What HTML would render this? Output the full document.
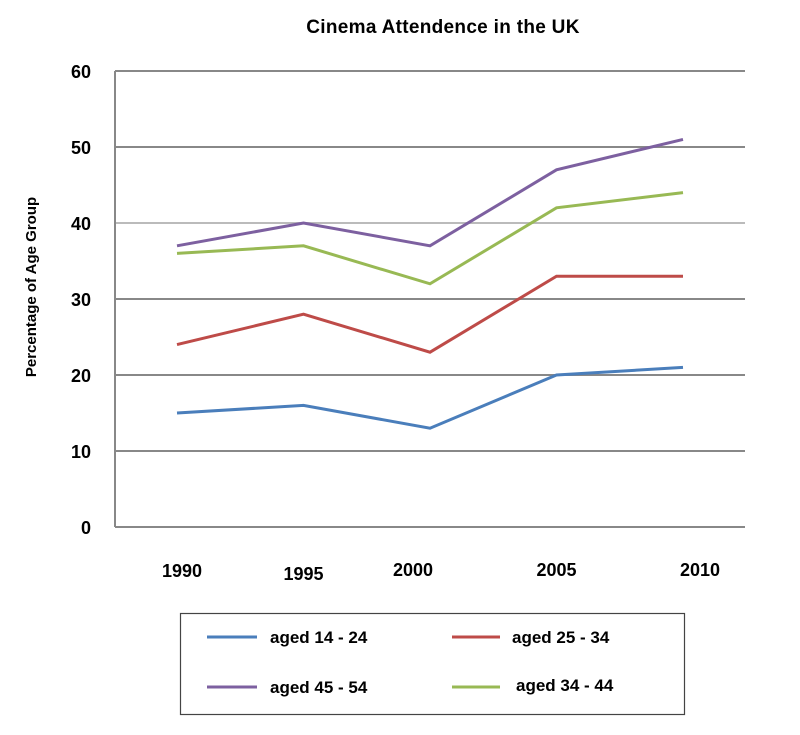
<!DOCTYPE html>
<html><head><meta charset="utf-8"><style>
body{margin:0;background:#fff;}
svg text{font-family:"Liberation Sans",Arial,sans-serif;font-weight:bold;fill:#000;}
</style></head><body>
<svg width="800" height="730" viewBox="0 0 800 730">
<text x="443" y="33" font-size="19" letter-spacing="0.3" text-anchor="middle">Cinema Attendence in the UK</text>
<text transform="translate(36,287) rotate(-90)" font-size="15" text-anchor="middle">Percentage of Age Group</text>
<g id="grid"></g>
<g id="series"></g>
<g>
<rect x="180.5" y="613.5" width="504" height="101" fill="#fff" stroke="#444" stroke-width="1.2"/>
<g><line x1="207" y1="637" x2="257" y2="637" stroke="#4a7ebb" stroke-width="3"/><text x="270" y="643" font-size="17">aged 14 - 24</text></g>
<g><line x1="452" y1="637" x2="500" y2="637" stroke="#be4b48" stroke-width="3"/><text x="512" y="643" font-size="17">aged 25 - 34</text></g>
<g><line x1="207" y1="687" x2="257" y2="687" stroke="#7d60a0" stroke-width="3"/><text x="270" y="693" font-size="17">aged 45 - 54</text></g>
<g><line x1="452" y1="687" x2="500" y2="687" stroke="#98b954" stroke-width="3"/><text x="516" y="691" font-size="17">aged 34 - 44</text></g>
</g>
</svg>
<script>
const years=["1990","1995","2000","2005","2010"];
const yTicks=[0,10,20,30,40,50,60];
const s1424=[15,16,13,20,21];
const s2534=[24,28,23,33,33];
const s4554=[37,40,37,47,51];
const s3444=[36,37,32,42,44];
const NS="http://www.w3.org/2000/svg";
const xPos=[177,305,430,557,683];
function xs(i){return xPos[0]+(xPos[4]-xPos[0])*i/(years.length-1);}
function ys(v){return 527-v*(456/60);}
const grid=document.getElementById('grid');
yTicks.forEach(v=>{
  const l=document.createElementNS(NS,'line');
  l.setAttribute('x1',115);l.setAttribute('x2',745);
  l.setAttribute('y1',ys(v));l.setAttribute('y2',ys(v));
  l.setAttribute('stroke',v===40?'#bbb':'#888');l.setAttribute('stroke-width',2);
  
  
  grid.appendChild(l);
  const t=document.createElementNS(NS,'text');
  t.setAttribute('x',91);t.setAttribute('y',ys(v)+7);
  t.setAttribute('text-anchor','end');t.setAttribute('font-size',18);
  t.textContent=v;
  
  
  grid.appendChild(t);
});
const ax=document.createElementNS(NS,'line');
ax.setAttribute('x1',115);ax.setAttribute('x2',115);ax.setAttribute('y1',71);ax.setAttribute('y2',527);
ax.setAttribute('stroke','#888');ax.setAttribute('stroke-width',2);


grid.appendChild(ax);
const yOff=[0,3,-1,-1,-1];
const xOff=[5,0,-17,0,17];
years.forEach((y,i)=>{
  const t=document.createElementNS(NS,'text');
  t.setAttribute('x',xs(i)+xOff[i]);t.setAttribute('y',577+yOff[i]);
  t.setAttribute('text-anchor','middle');t.setAttribute('font-size',18);
  t.textContent=y;
  
  
  grid.appendChild(t);
});
const ser=document.getElementById('series');
[[s1424,'#4a7ebb','line-aged-14-24'],[s2534,'#be4b48','line-aged-25-34'],[s3444,'#98b954','line-aged-34-44'],[s4554,'#7d60a0','line-aged-45-54']].forEach(([d,c,n])=>{
  const p=document.createElementNS(NS,'polyline');
  p.setAttribute('points',d.map((v,i)=>xs(i)+','+ys(v)).join(' '));
  p.setAttribute('fill','none');p.setAttribute('stroke',c);p.setAttribute('stroke-width',3);
  
  
  ser.appendChild(p);
});
</script>
</body></html>
